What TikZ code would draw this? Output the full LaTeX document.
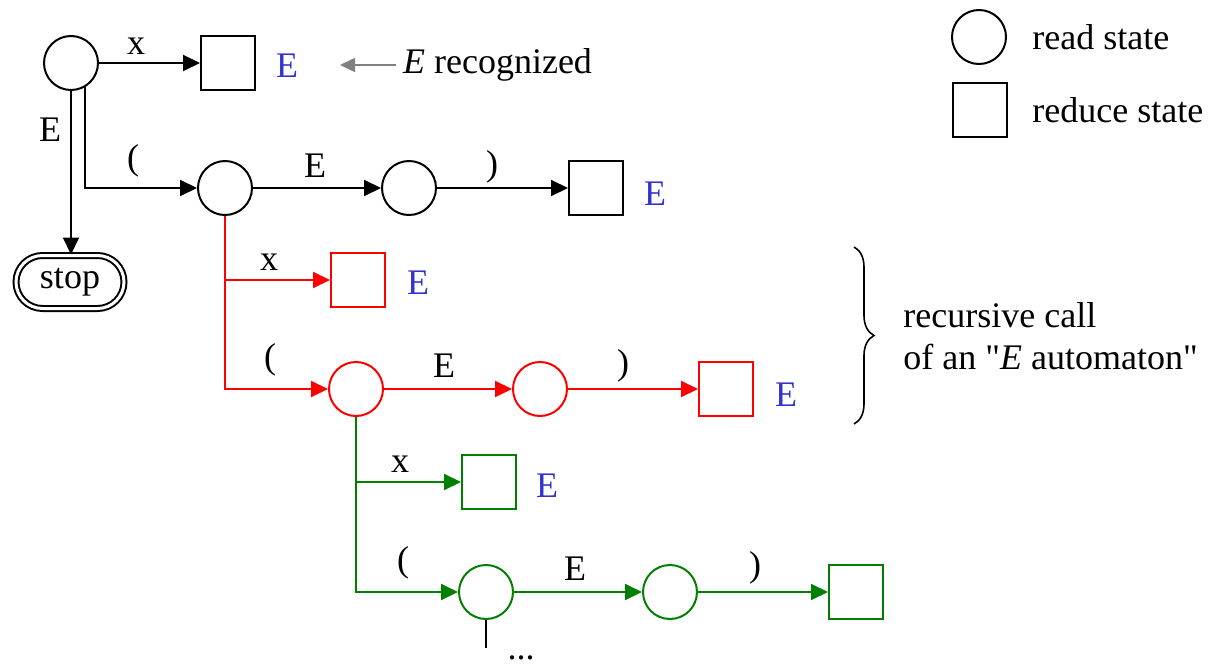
\documentclass[tikz,border=0pt]{standalone}
\usepackage{fontspec}
\setmainfont{Liberation Serif}[Ligatures=TeXOff]
\usetikzlibrary{arrows.meta,positioning,shapes.misc,decorations.pathreplacing}
\definecolor{eblue}{RGB}{51,51,204}
\definecolor{dgreen}{RGB}{0,128,0}
\definecolor{hintgray}{RGB}{128,128,128}

\begin{document}
\begin{tikzpicture} [
                x=0.5pt, y=-0.5pt,
                font=\fontsize{18}{21}\selectfont,
                read/.style={circle,draw,line width=1pt,minimum size=27pt,inner sep=0pt},
                reduce/.style={rectangle,draw,line width=1pt,minimum size=27pt,inner sep=0pt},
                stopbox/.style={rounded rectangle,draw,double,double distance=1.5pt,line width=1pt,
                    minimum width=54pt,minimum height=26.5pt,inner sep=0pt},
                edge/.style = {draw,line width=1pt,-},
                arrow edge/.style = {draw,line width=1pt,-{Triangle[length=8.5pt,width=8pt]}},
                hint edge/.style = {draw,hintgray,line width=0.8pt,-{Triangle[length=7.5pt,width=7pt]}},
                label/.style = {inner sep=0pt},
                found/.style = {inner sep=0pt,text=eblue},
            ]
            \useasboundingbox (0,0) rectangle (1211,664);
            % states
            \foreach \pos/\name/\col in {
            {(71,63)/s/black}, {(225,188)/c2/black}, {(409,188)/c3/black},
            {(356,389)/c4/red}, {(540,389)/c5/red},
            {(486,592)/c6/dgreen}, {(670,592)/c7/dgreen}}
                \node[read,draw=\col] (\name) at \pos {};
            \foreach \pos/\name/\col in {
            {(228,63)/r1/black}, {(596,188)/r2/black},
            {(358,280)/r3/red}, {(726,389)/r4/red},
            {(489,482)/r5/dgreen}, {(856,592)/r6/dgreen}}
                \node[reduce,draw=\col] (\name) at \pos {};
            \node[stopbox] (stop) at (70,282) {stop};
            % transitions
            \path[arrow edge] (s) -- (r1);
            \path[arrow edge] (s.south) -- (s.south |- stop.north);
            \path[arrow edge] (s.-61) |- (c2);
            \path[arrow edge] (c2) -- (c3);
            \path[arrow edge] (c3) -- (r2);
            \path[arrow edge,red] (c2.south) |- (c4);
            \path[arrow edge,red] (c2.south |- r3) -- (r3);
            \path[arrow edge,red] (c4) -- (c5);
            \path[arrow edge,red] (c5) -- (r4);
            \path[arrow edge,dgreen] (c4.south) |- (c6);
            \path[arrow edge,dgreen] (c4.south |- r5) -- (r5);
            \path[arrow edge,dgreen] (c6) -- (c7);
            \path[arrow edge,dgreen] (c7) -- (r6);
            \coordinate (more) at (486,648);
            \path[edge] (c6.south) -- (more);
            \node[anchor=base,inner sep=0pt] (dots) at (521,659) {...};
            % symbols on the transitions
            \foreach \pos/\txt [count=\i] in {
            {(136,46)/x}, {(50,130)/E}, {(133,161)/(}, {(315,166)/E}, {(492,167)/)},
            {(269,262)/x}, {(270,360)/(}, {(444,366)/E}, {(623,366)/)},
            {(400,464)/x}, {(403,563)/(}, {(575,569)/E}, {(755,568)/)}}
                \node[label] (sym\i) at \pos {\txt};
            % reductions
            \foreach \pos/\name in {
            {(287,66)/e1}, {(655,194)/e2}, {(418,283)/e3}, {(786,395)/e4}, {(547,486)/e5}}
                \node[found] (\name) at \pos {E};
            \node[anchor=west] (rec) at (396,65) {\textit{E} recognized};
            \coordinate (rectip) at (340,65);
            \path[hint edge] (rec.west) -- (rectip);
            % recursion
            \draw[decorate,decoration={brace,amplitude=10pt},line width=0.8pt] (854,247) -- (854,424);
            \node[anchor=west,align=left,inner sep=0pt] (rcall) at (903,336)
                {recursive call\\of an "\textit{E} automaton"};
            % legend
            \node[read] (legread) at (979,37) {};
            \node[reduce] (legreduce) at (980,110) {};
            \node[right=12.5pt of legread,inner sep=0pt] (readtxt) {read state};
            \node[right=12pt of legreduce,inner sep=0pt] (reducetxt) {reduce state};
        \end{tikzpicture}
\end{document}
